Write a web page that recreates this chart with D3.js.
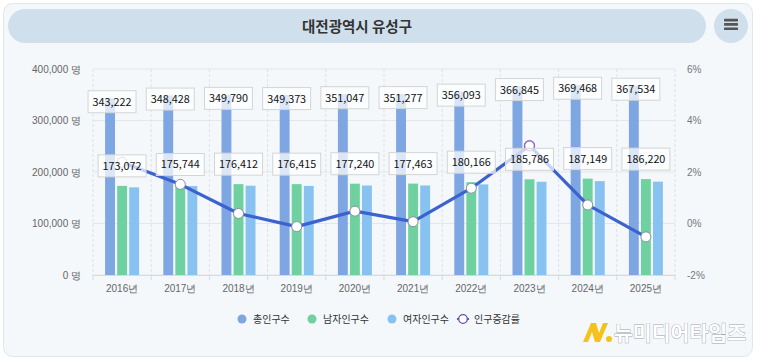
<!DOCTYPE html>
<html><head><meta charset="utf-8">
<script src="https://cdn.jsdelivr.net/npm/d3@7"></script>
<style>
html,body{margin:0;padding:0;background:#fff;}
svg{display:block;font-family:"Noto Sans CJK KR","Noto Sans",sans-serif;}
</style></head>
<body>
<svg id="c" width="757" height="360"></svg>
<script>
const title = "대전광역시 유성구";
const years = ["2016년","2017년","2018년","2019년","2020년","2021년","2022년","2023년","2024년","2025년"];
const total = [343222,348428,349790,349373,351047,351277,356093,366845,369468,367534];
const male = [173072,175744,176412,176415,177240,177463,180166,185786,187149,186220];
const female = [170150,172684,173378,172958,173807,173814,175927,181059,182319,181314];
const rate = [2.38,1.52,0.39,-0.12,0.48,0.07,1.37,3.02,0.72,-0.52];
const leftTicks = [0,100000,200000,300000,400000];
const rightTicks = [-2,0,2,4,6];
const seriesNames = ["총인구수","남자인구수","여자인구수","인구증감률"];
const colors = ["#7ea6e3","#6fd0a0","#88c2f1","#3c62cf"];

const svg = d3.select("#c");
// card
svg.append("rect").attr("width",757).attr("height",360).attr("fill","#ffffff");
svg.append("rect").attr("x",3.5).attr("y",3.5).attr("width",749).attr("height",353).attr("rx",9)
  .attr("fill","#f4f8fb").attr("stroke","#dfe7ee");
// title pill
svg.append("rect").attr("x",8).attr("y",9).attr("width",698).attr("height",34).attr("rx",17).attr("fill","#cfe0ec");
svg.append("text").attr("x",357).attr("y",31.5).attr("text-anchor","middle").attr("font-size",14.5)
  .attr("font-weight","bold").attr("fill","#333").text(title);
svg.append("circle").attr("cx",731).attr("cy",26).attr("r",17).attr("fill","#cfe0ec");
[20,24.3,28.6].forEach(y=>svg.append("rect").attr("x",724).attr("y",y-1.2).attr("width",14).attr("height",2.6).attr("rx",0.6).attr("fill","#555"));

const x0 = 93, x1 = 675, yTop = 69, yBot = 275;
const x = d3.scaleBand().domain(years).range([x0,x1]).padding(0);
const xs = d3.scaleBand().domain([0,1,2]).range([-17,17]).paddingInner(0.18).paddingOuter(0);
const y = d3.scaleLinear().domain([0,400000]).range([yBot,yTop]);
const yr = d3.scaleLinear().domain([-2,6]).range([yBot,yTop]);

// gridlines
const g = svg.append("g");
g.selectAll("line.h").data(leftTicks).join("line")
  .attr("x1",x0).attr("x2",x1).attr("y1",d=>y(d)).attr("y2",d=>y(d)).attr("stroke","#e3e7ec");
const bounds = years.map(d=>x(d)).concat([x1]);
g.selectAll("line.v").data(bounds).join("line")
  .attr("x1",d=>d).attr("x2",d=>d).attr("y1",yTop).attr("y2",yBot)
  .attr("stroke","#dde2e8").attr("stroke-dasharray","3,2");

// axes
const axL = svg.append("g").attr("transform",`translate(${x0},0)`)
  .call(d3.axisLeft(y).tickValues(leftTicks).tickSize(0).tickPadding(12).tickFormat(d=>d3.format(",")(d)+" 명"));
axL.select(".domain").remove();
axL.selectAll("text").attr("font-size",10).attr("fill","#666").attr("font-family","inherit");
const axR = svg.append("g").attr("transform",`translate(${x1},0)`)
  .call(d3.axisRight(yr).tickValues(rightTicks).tickSize(0).tickPadding(12).tickFormat(d=>d+"%"));
axR.select(".domain").remove();
axR.selectAll("text").attr("font-size",10).attr("fill","#777").attr("font-family","inherit");
const axB = svg.append("g").attr("transform",`translate(0,${yBot})`)
  .call(d3.axisBottom(x).tickSize(0).tickPadding(10));
axB.select(".domain").attr("stroke","#d5dbe2");
axB.selectAll("text").attr("font-size",10).attr("fill","#666").attr("font-family","inherit");
axB.selectAll("line.tk").data(bounds).join("line").attr("class","tk")
  .attr("x1",d=>d).attr("x2",d=>d).attr("y1",0).attr("y2",5).attr("stroke","#d5dbe2");

// bars
const series = [total,male,female];
series.forEach((vals,si)=>{
  svg.append("g").selectAll("rect").data(vals).join("rect")
    .attr("x",(d,i)=>x(years[i])+x.bandwidth()/2+xs(si))
    .attr("width",xs.bandwidth())
    .attr("y",d=>y(d)).attr("height",d=>yBot-y(d))
    .attr("fill",colors[si]);
});

// line
const cx = (i)=>x(years[i])+x.bandwidth()/2;
svg.append("path").datum(rate)
  .attr("d",d3.line().x((d,i)=>cx(i)).y(d=>yr(d)))
  .attr("fill","none").attr("stroke",colors[3]).attr("stroke-width",3.2).attr("stroke-linejoin","round");
svg.append("g").selectAll("circle").data(rate).join("circle")
  .attr("cx",(d,i)=>cx(i)).attr("cy",d=>yr(d)).attr("r",5)
  .attr("fill","#fff").attr("stroke",(d,i)=>i===7?"#8a66c4":"#8b8fa3").attr("stroke-width",(d,i)=>i===7?1.4:1);

// labels
function label(px,py,txt){
  const gl = svg.append("g");
  const t = gl.append("text").attr("x",px).attr("y",py+4).attr("text-anchor","middle")
    .attr("font-size",10.8).attr("fill","#111").text(txt);
  const w = t.node().getComputedTextLength()+9;
  gl.insert("rect","text").attr("x",px-w/2).attr("y",py-11).attr("width",w).attr("height",22)
    .attr("fill","rgba(255,255,255,0.72)").attr("stroke","#d4d4d4");
}
const fmt = d3.format(",");
total.forEach((v,i)=>label(x(years[i])+x.bandwidth()/2+xs(0)+xs.bandwidth()/2+2,y(v)+3.5,fmt(v)));
male.forEach((v,i)=>label(x(years[i])+x.bandwidth()/2+xs(1)+xs.bandwidth()/2,y(v)-20,fmt(v)));

// legend
const leg = [{x:242},{x:312},{x:392},{x:463}];
seriesNames.forEach((n,i)=>{
  const lg = svg.append("g").attr("transform",`translate(${leg[i].x},319)`);
  if(i<3){
    lg.append("circle").attr("r",4.5).attr("fill",colors[i]);
  } else {
    lg.append("line").attr("x1",-6).attr("x2",6).attr("stroke",colors[3]).attr("stroke-width",2);
    lg.append("circle").attr("r",4.3).attr("fill","#fff").attr("stroke","#6a4bb0").attr("stroke-width",1.3);
  }
  lg.append("text").attr("x",11).attr("y",3.5).attr("font-size",10).attr("fill","#333").text(n);
});

// watermark logo
const wm = svg.append("g").attr("transform","translate(581,321)");
wm.append("path").attr("d","M2 21 L10 2 L15 2 L18 12 L22 2 L27 2 L19 21 L14 21 L11 11 L7 21 Z").attr("fill","#f4c21a");
wm.append("circle").attr("cx",28).attr("cy",18).attr("r",3).attr("fill","#f4c21a");
wm.append("text").attr("x",33).attr("y",20).attr("font-size",20).attr("font-weight","bold")
  .attr("textLength",132).attr("lengthAdjust","spacingAndGlyphs")
  .attr("fill","#fff").attr("stroke","#9aa3ad").attr("stroke-width",0.8).attr("paint-order","stroke")
  .text("뉴미디어타임즈");
</script>
</body></html>
